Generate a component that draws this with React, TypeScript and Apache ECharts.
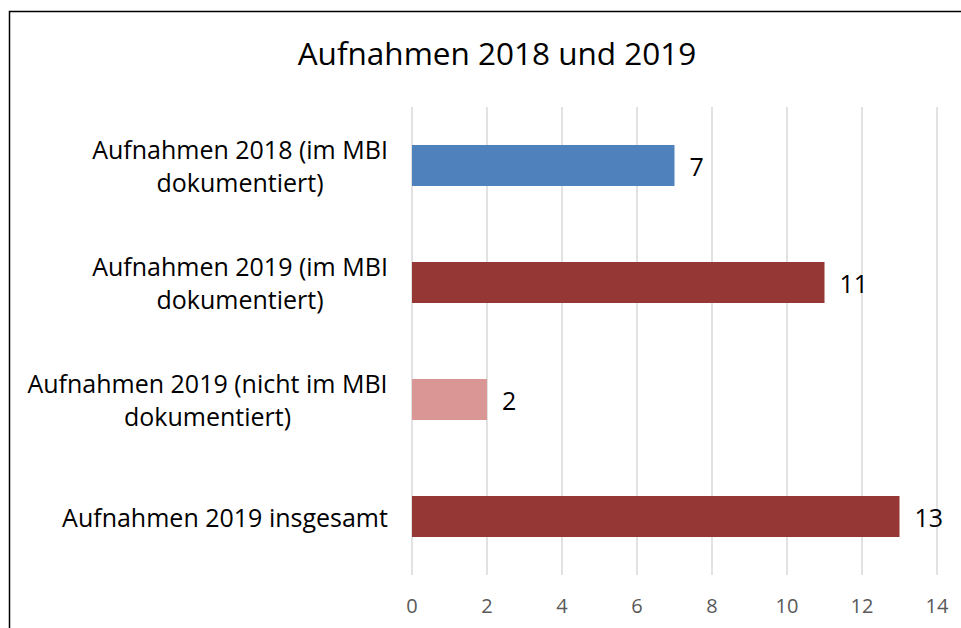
import React, { useEffect, useRef } from "react";
import * as echarts from "echarts";

const categories = [
  "Aufnahmen 2018 (im MBI\ndokumentiert)",
  "Aufnahmen 2019 (im MBI\ndokumentiert)",
  "Aufnahmen 2019 (nicht im MBI\ndokumentiert)",
  "Aufnahmen 2019 insgesamt",
];
const values = [7, 11, 2, 13];
const barColors = ["#4F81BD", "#953735", "#D99694", "#953735"];
const titleText = "Aufnahmen 2018 und 2019";

export default function App() {
  const ref = useRef<HTMLDivElement>(null);
  useEffect(() => {
    const chart = echarts.init(ref.current!, null, { renderer: "svg" });
    const font = "'Open Sans', 'Liberation Sans', sans-serif";
    const catSize = 25;
    const canvas = document.createElement("canvas");
    const ctx = canvas.getContext("2d")!;
    ctx.font = `${catSize}px 'Open Sans'`;
    const rich: Record<string, any> = {};
    categories.forEach((c, i) => {
      const w = Math.max(...c.split("\n").map((l) => ctx.measureText(l).width));
      rich["r" + i] = {
        width: Math.ceil(w),
        align: "center",
        fontSize: catSize,
        fontFamily: font,
        color: "#000",
        lineHeight: 33,
      };
    });
    chart.setOption({
      animation: false,
      backgroundColor: "#ffffff",
      title: {
        text: titleText,
        left: 492,
        textAlign: "center",
        top: 31,
        textStyle: { fontFamily: font, fontSize: 31.5, fontWeight: "normal", color: "#000" },
      },
      graphic: [
        {
          type: "rect",
          shape: { x: 9.5, y: 11.5, width: 1000, height: 700 },
          style: { fill: "none", stroke: "#000", lineWidth: 1.5 },
          silent: true,
        },
      ],
      grid: { left: 412, right: 24, top: 107, bottom: 53, containLabel: false },
      xAxis: {
        type: "value",
        min: 0,
        max: 14,
        interval: 2,
        axisLine: { show: false },
        axisTick: { show: false },
        splitLine: { lineStyle: { color: "#D9D9D9", width: 1.5 } },
        axisLabel: { color: "#595959", fontSize: 20, fontFamily: font, margin: 20 },
      },
      yAxis: {
        type: "category",
        inverse: true,
        data: categories,
        axisLine: { show: false },
        axisTick: { show: false },
        axisLabel: {
          color: "#000",
          fontSize: catSize,
          fontFamily: font,
          margin: 24,
          align: "right",
          lineHeight: 33,
          rich,
          formatter: (val: string, idx: number) =>
            val
              .split("\n")
              .map((l) => `{r${idx}|${l}}`)
              .join("\n"),
        },
      },
      series: [
        {
          type: "bar",
          barWidth: 41,
          data: values.map((v, i) => ({ value: v, itemStyle: { color: barColors[i] } })),
          label: {
            show: true,
            position: "right",
            distance: 15,
            color: "#000",
            fontSize: 25,
            fontFamily: font,
          },
        },
      ],
    });
    return () => chart.dispose();
  }, []);
  return (
    <div
      ref={ref}
      style={{ position: "fixed", left: 0, top: 0, width: 961, height: 628 }}
    />
  );
}
